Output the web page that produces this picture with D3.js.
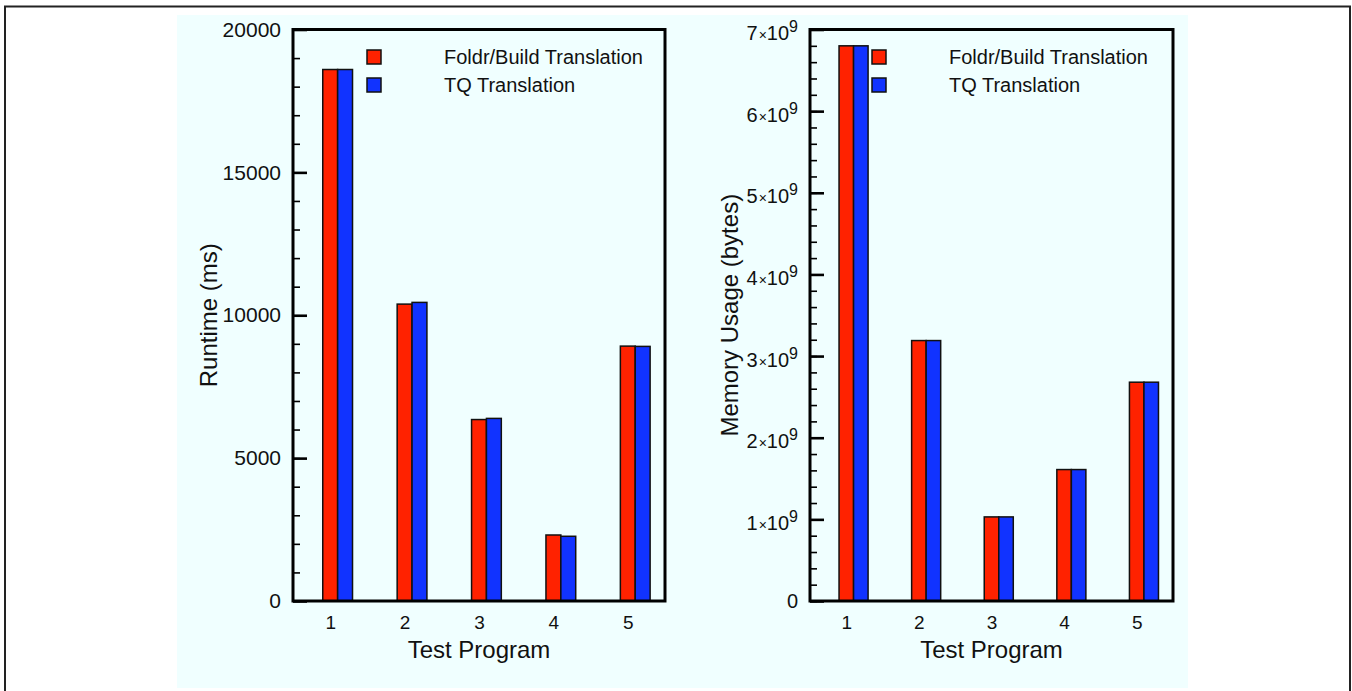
<!DOCTYPE html>
<html>
<head>
<meta charset="utf-8">
<script src="https://cdn.jsdelivr.net/npm/d3@7"></script>
<style>
  html, body { margin: 0; padding: 0; background: #ffffff; }
  svg { display: block; font-family: "Liberation Sans", Arial, Helvetica, sans-serif; }
</style>
</head>
<body>
<svg id="chart" width="1352" height="691"></svg>
<script>
// ---------- data ----------
const categories = [1, 2, 3, 4, 5];
const seriesNames = ["Foldr/Build Translation", "TQ Translation"];
const runtimeFoldr = [18600, 10390, 6350, 2310, 8920];
const runtimeTQ    = [18600, 10450, 6390, 2265, 8910];
const memoryFoldr  = [6.80e9, 3.19e9, 1.03e9, 1.61e9, 2.68e9];
const memoryTQ     = [6.80e9, 3.19e9, 1.03e9, 1.61e9, 2.68e9];
const runtimeTicks = [0, 5000, 10000, 15000, 20000];
const memoryTicks  = [0, 1e9, 2e9, 3e9, 4e9, 5e9, 6e9, 7e9];
const xTitle = "Test Program";
const runtimeTitle = "Runtime (ms)";
const memoryTitle = "Memory Usage (bytes)";

// ---------- style ----------
const colors = ["#ff2200", "#1133ff"];
const svg = d3.select("#chart");

// page border and panel background
svg.append("rect").attr("x", 5).attr("y", 6.5).attr("width", 1345).attr("height", 720)
  .attr("fill", "#ffffff").attr("stroke", "#222").attr("stroke-width", 2);
svg.append("rect").attr("x", 177).attr("y", 15).attr("width", 1011).attr("height", 673)
  .attr("fill", "#f0ffff");

function panel(opts) {
  const { left, right, top, bottom, max, ticks, minorStep, a, b, yTitle, yTitleX, sci, legendX } = opts;
  const g = svg.append("g");
  const x = d3.scaleLinear().domain([0.5, 5.5]).range([left, right]);
  const y = d3.scaleLinear().domain([0, max]).range([bottom, top]);
  const bw = 0.2;

  // bars
  const data = categories.map((c, i) => ({ c, v: [a[i], b[i]] }));
  [0, 1].forEach(s => {
    g.append("g").selectAll("rect").data(data).join("rect")
      .attr("x", d => x(d.c - bw / 2 + s * bw))
      .attr("width", d => x(d.c + bw / 2 + s * bw) - x(d.c - bw / 2 + s * bw))
      .attr("y", d => y(d.v[s]))
      .attr("height", d => y(0) - y(d.v[s]))
      .attr("fill", colors[s]).attr("stroke", "#111").attr("stroke-width", 1.5);
  });

  // minor ticks
  const minor = d3.axisLeft(y).tickValues(d3.range(0, max + minorStep / 2, minorStep))
    .tickSize(-7).tickFormat("");
  const mg = g.append("g").attr("transform", `translate(${left},0)`).call(minor);
  mg.select(".domain").remove();
  mg.selectAll("line").attr("stroke", "#000").attr("stroke-width", 1.6);

  // major ticks
  const major = d3.axisLeft(y).tickValues(ticks).tickSize(-14).tickPadding(12)
    .tickFormat(d => d3.format("d")(d));
  const ag = g.append("g").attr("transform", `translate(${left},0)`).call(major);
  ag.select(".domain").remove();
  ag.selectAll("line").attr("stroke", "#000").attr("stroke-width", 2.6);
  ag.selectAll("text").style("font-size", "21px").attr("fill", "#111")
    .attr("font-family", "'Liberation Sans', Arial, sans-serif");
  if (sci) {
    ag.selectAll("text").each(function (d) {
      const t = d3.select(this);
      if (d === 0) { t.text("0").style("font-size", "20px"); return; }
      const m = Math.round(d / 1e9);
      t.text(null).attr("dy", null).attr("y", 10);
      t.append("tspan").style("font-size", "20px").text(m);
      t.append("tspan").style("font-size", "14px").attr("dx", 1).text("\u00d7");
      t.append("tspan").style("font-size", "20px").text("10");
      t.append("tspan").style("font-size", "16px").attr("dy", -8).text("9");
    });
  }

  // x axis labels
  const xa = d3.axisBottom(x).tickValues(categories).tickSize(0).tickPadding(15)
    .tickFormat(d3.format("d"));
  const xg = g.append("g").attr("transform", `translate(0,${bottom})`).call(xa);
  xg.select(".domain").remove();
  xg.selectAll("text").style("font-size", "19px").attr("fill", "#111")
    .attr("font-family", "'Liberation Sans', Arial, sans-serif");

  // frame
  g.append("rect").attr("x", left).attr("y", top).attr("width", right - left).attr("height", bottom - top)
    .attr("fill", "none").attr("stroke", "#000").attr("stroke-width", 3);

  // titles
  g.append("text").attr("x", (left + right) / 2).attr("y", 658).attr("text-anchor", "middle")
    .attr("font-size", 24).attr("fill", "#111").text(xTitle);
  g.append("text").attr("transform", `translate(${yTitleX},${(top + bottom) / 2}) rotate(-90)`)
    .attr("text-anchor", "middle").attr("font-size", 24).attr("fill", "#111").text(yTitle);

  // legend
  const lg = g.append("g");
  seriesNames.forEach((name, i) => {
    lg.append("rect").attr("x", legendX).attr("y", 50 + i * 28).attr("width", 14).attr("height", 14)
      .attr("fill", colors[i]).attr("stroke", "#111").attr("stroke-width", 1.5);
    lg.append("text").attr("x", legendX + 77).attr("y", 64 + i * 28).attr("font-size", 20)
      .attr("fill", "#111").text(name);
  });
}

panel({ left: 293, right: 665, top: 29.5, bottom: 601, max: 20000, ticks: runtimeTicks,
        minorStep: 1000, a: runtimeFoldr, b: runtimeTQ, yTitle: runtimeTitle, yTitleX: 217,
        sci: false, legendX: 367 });
panel({ left: 810, right: 1173, top: 29.5, bottom: 601, max: 7e9, ticks: memoryTicks,
        minorStep: 0.2e9, a: memoryFoldr, b: memoryTQ, yTitle: memoryTitle, yTitleX: 738,
        sci: true, legendX: 872 });
</script>
</body>
</html>
